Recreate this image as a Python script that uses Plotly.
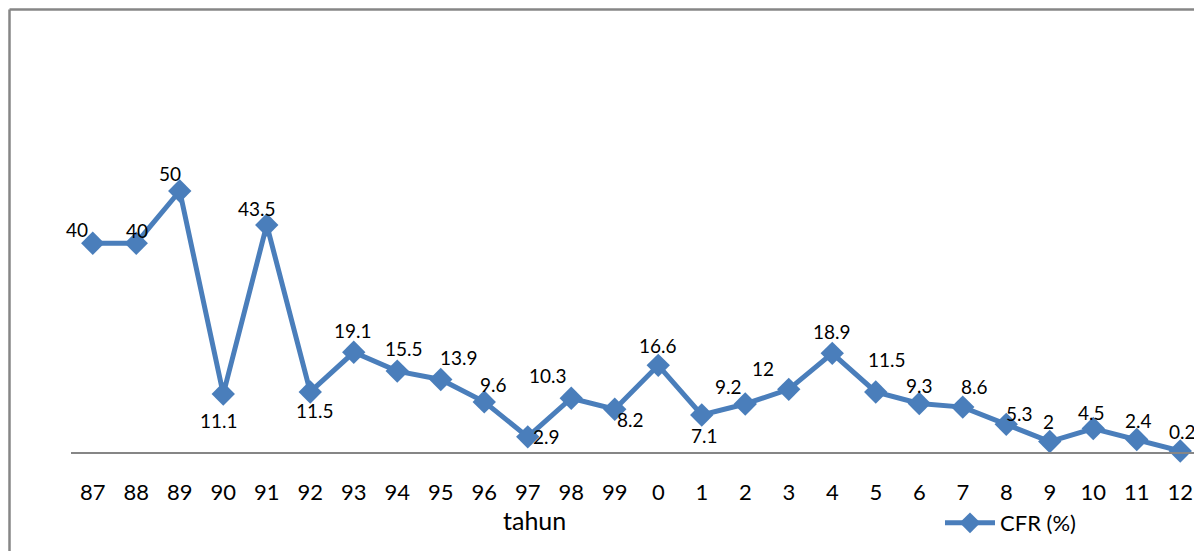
import plotly.graph_objects as go

years = ["87", "88", "89", "90", "91", "92", "93", "94", "95", "96", "97", "98", "99",
         "0", "1", "2", "3", "4", "5", "6", "7", "8", "9", "10", "11", "12"]
cfr = [40, 40, 50, 11.1, 43.5, 11.5, 19.1, 15.5, 13.9, 9.6, 2.9, 10.3, 8.2,
       16.6, 7.1, 9.2, 12, 18.9, 11.5, 9.3, 8.6, 5.3, 2, 4.5, 2.4, 0.2]

# label offsets (pixels) relative to each marker: (dx, dy), dy positive = down
label_dx = [-16, 1, -10, -4, -10, 5, -1, 7, 18, 9, 19, -23, 16,
            0, 3, -17, -26, 0, 11, 0, 12, 13, -1, -2, 2, 2]
label_dy = [-14, -13, -18, 26, -16, 19, -22, -23, -22, -17, 0, -23, 10,
            -20, 21, -17, -21, -22, -32, -18, -21, -11, -20, -16, -19, -19]

OFF = 8  # page body margin
W, H = 1202 - OFF, 559 - 2 * OFF
L, R, T = 71 - OFF, 0, 12
AXIS_Y = 452 - OFF
B = H - AXIS_Y
plot_h = H - T - B
px_per_unit = 5.22

color = "#4A7EBB"
font = "Lato"

fig = go.Figure()
fig.add_trace(go.Scatter(
    x=years, y=cfr, mode="lines+markers",
    name="CFR (%)",
    line=dict(color=color, width=5),
    marker=dict(symbol="diamond", size=18, color=color),
    cliponaxis=False,
))

# category axis: annotation x given as category index
for i, (v, dx, dy) in enumerate(zip(cfr, label_dx, label_dy)):
    fig.add_annotation(x=i, y=v, text=str(v), showarrow=False,
                       xanchor="center", yanchor="middle",
                       xshift=dx, yshift=-dy,
                       font=dict(family=font, size=19, color="#000000"))

def px_x(p):
    return (p - OFF - L) / (W - L - R)

def px_y(p):
    return (AXIS_Y - (p - OFF)) / plot_h

gray = "#868686"
fig.add_shape(type="line", xref="paper", yref="paper",
              x0=px_x(9.5), x1=px_x(9.5), y0=px_y(9.5), y1=px_y(620),
              line=dict(color=gray, width=2.5))
fig.add_shape(type="line", xref="paper", yref="paper",
              x0=px_x(9.5), x1=px_x(1240), y0=px_y(9.5), y1=px_y(9.5),
              line=dict(color=gray, width=2.5))

fig.add_annotation(text="tahun", xref="paper", yref="paper",
                   x=px_x(534), y=px_y(520), showarrow=False,
                   xanchor="center", yanchor="middle",
                   font=dict(family=font, size=25, color="#000000"))

fig.update_layout(
    width=W, height=H,
    margin=dict(l=L, r=R, t=T, b=B),
    paper_bgcolor="white", plot_bgcolor="white",
    showlegend=True,
    legend=dict(x=px_x(940), y=px_y(523), xanchor="left", yanchor="middle",
                font=dict(family=font, size=22, color="#000000"),
                itemwidth=50, bgcolor="rgba(0,0,0,0)"),
    xaxis=dict(type="category", range=[-0.5, len(years) - 0.5],
               showline=True, linecolor=gray, linewidth=2,
               showgrid=False, zeroline=False, ticks="",
               tickfont=dict(family=font, size=22, color="#000000"),
               ticklabelstandoff=20),
    yaxis=dict(range=[0, plot_h / px_per_unit], visible=False,
               showgrid=False, zeroline=False),
)

fig.write_html("out.html")
